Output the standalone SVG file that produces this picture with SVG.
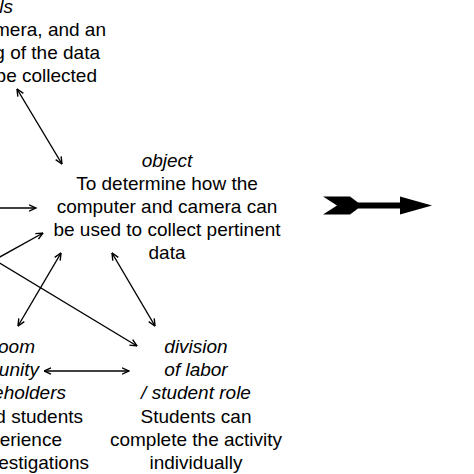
<svg xmlns="http://www.w3.org/2000/svg" width="474" height="474" viewBox="0 0 474 474">
<defs>
<marker id="ah" viewBox="0 0 8 8" refX="7.5" refY="4" markerWidth="8" markerHeight="8" markerUnits="userSpaceOnUse" orient="auto-start-reverse">
<path d="M0.5,0.8 L7.5,4 L0.5,7.2" fill="none" stroke="#000" stroke-width="1.4"/>
</marker>
<style>
text{font-family:"Liberation Sans",Arial,sans-serif;font-size:19px;fill:#000}
.i{font-style:italic}
.c{text-anchor:middle}
.e{text-anchor:end}
.ln{stroke:#000;stroke-width:1.4;fill:none}
.one{marker-end:url(#ah)}
.two{marker-start:url(#ah);marker-end:url(#ah)}
</style>
</defs>
<rect width="474" height="474" fill="#fff"/>
<g id="tools">
<text class="e i" x="13" y="13">ls</text>
<text class="e" x="106" y="36">mera, and an</text>
<text class="e" x="100" y="59">g of the data</text>
<text class="e" x="97" y="82">be collected</text>
</g>
<g id="object">
<text class="c i" x="167" y="167">object</text>
<text class="c" x="167" y="190">To determine how the</text>
<text class="c" x="167" y="213">computer and camera can</text>
<text class="c" x="167" y="236">be used to collect pertinent</text>
<text class="c" x="167" y="259">data</text>
</g>
<g id="community">
<text class="e i" x="35" y="353">oom</text>
<text class="e i" x="39" y="376">unity</text>
<text class="e i" x="66" y="399">eholders</text>
<text class="e" x="83" y="423">d students</text>
<text class="e" x="62" y="446">erience</text>
<text class="e" x="89" y="469">estigations</text>
</g>
<g id="division">
<text class="c i" x="196" y="353">division</text>
<text class="c i" x="196" y="376">of labor</text>
<text class="c i" x="196" y="399">/ student role</text>
<text class="c" x="196" y="423">Students can</text>
<text class="c" x="196" y="446">complete the activity</text>
<text class="c" x="196" y="469">individually</text>
</g>
<g id="connectors">
<line class="ln two" x1="17" y1="89" x2="62" y2="164"/>
<line class="ln one" x1="-2" y1="208" x2="36" y2="208"/>
<line class="ln one" x1="-2" y1="258" x2="43" y2="233"/>
<line class="ln one" x1="-2" y1="262" x2="137" y2="346"/>
<line class="ln two" x1="61" y1="253" x2="18" y2="326"/>
<line class="ln two" x1="112" y1="253" x2="155" y2="326"/>
<line class="ln two" x1="44" y1="371" x2="129" y2="371"/>
</g>
<g id="big-arrow">
<polygon points="323,196.5 350,196.5 358,202.5 400,202.5 400,196.5 432,205.5 400,214.5 400,208.5 358,208.5 350,214.5 323,214.5 337,205.5" fill="#000"/>
</g>
</svg>
